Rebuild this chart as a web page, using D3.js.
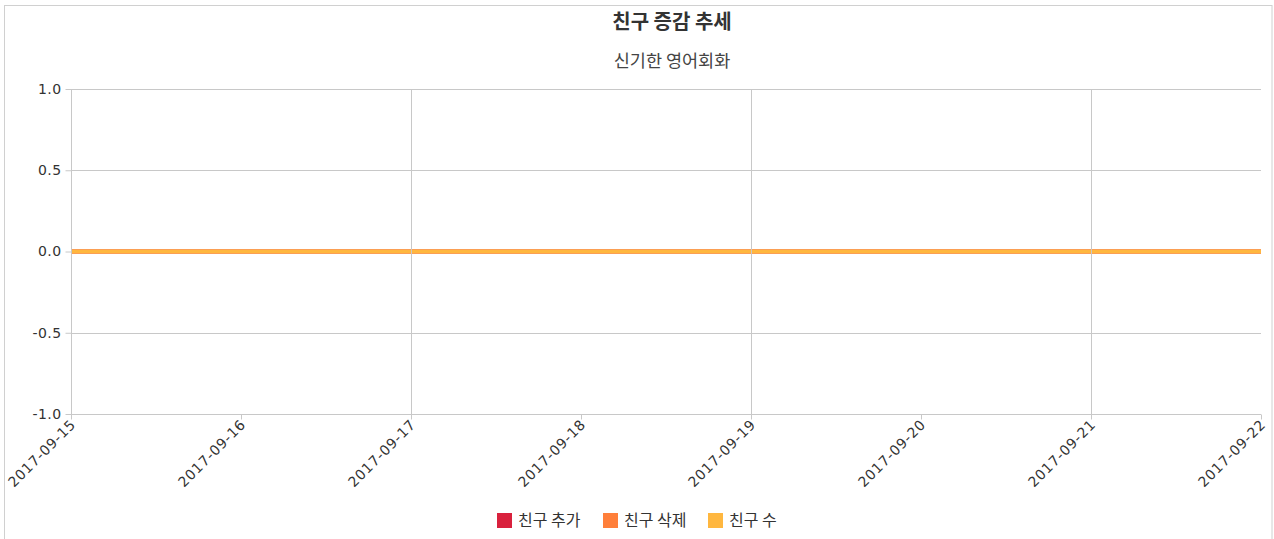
<!DOCTYPE html>
<html>
<head>
<meta charset="utf-8">
<script src="https://cdn.jsdelivr.net/npm/d3@7"></script>
<style>
  body { margin: 0; background: #fff; }
  text { font-family: "DejaVu Sans", "Noto Sans CJK KR", sans-serif; }
</style>
</head>
<body>
<svg id="chart" width="1274" height="539"></svg>
<script>
const dates = ["2017-09-15", "2017-09-16", "2017-09-17", "2017-09-18", "2017-09-19", "2017-09-20", "2017-09-21", "2017-09-22"];
const added = [0, 0, 0, 0, 0, 0, 0, 0];     // 친구 추가
const removed = [0, 0, 0, 0, 0, 0, 0, 0];   // 친구 삭제
const total = [0, 0, 0, 0, 0, 0, 0, 0];     // 친구 수
const yTicks = [1.0, 0.5, 0.0, -0.5, -1.0];
const seriesNames = ["친구 추가", "친구 삭제", "친구 수"];
const colors = ["#d9213d", "#ff7f3a", "#ffb73f"];

const svg = d3.select("#chart");
const W = 1274, H = 539;
const m = { left: 71, right: 13, top: 89, bottom: 125 };
const korean = "'Noto Sans CJK KR', sans-serif";

// outer frame
svg.append("rect").attr("x", 4.5).attr("y", 5.5).attr("width", W - 6.5).attr("height", H)
    .attr("fill", "none").attr("stroke", "#d0d0d0");

svg.append("text").attr("x", 672).attr("y", 29).attr("text-anchor", "middle")
    .style("font-family", korean)
    .attr("font-size", 20).attr("font-weight", "bold").attr("fill", "#333").text("친구 증감 추세");
svg.append("text").attr("x", 672).attr("y", 67).attr("text-anchor", "middle")
    .style("font-family", korean)
    .attr("font-size", 17.5).attr("fill", "#444").text("신기한 영어회화");

const parse = d3.timeParse("%Y-%m-%d");
const x = d3.scaleTime()
    .domain([parse(dates[0]), parse(dates[dates.length - 1])])
    .range([m.left, W - m.right]);
const y = d3.scaleLinear().domain([-1, 1]).range([H - m.bottom, m.top]);

const series = [added, removed, total];
const line = d3.line().x((d, i) => x(parse(dates[i]))).y(d => y(d));

// horizontal grid
svg.append("g").selectAll("line").data(yTicks).join("line")
    .attr("x1", m.left).attr("x2", W - m.right)
    .attr("y1", d => Math.round(y(d)) + 0.5).attr("y2", d => Math.round(y(d)) + 0.5)
    .attr("stroke", "#c8c8c8").attr("stroke-width", 1);

series.forEach((s, k) => {
    svg.append("path").datum(s).attr("d", line)
        .attr("fill", "none").attr("stroke", colors[k]).attr("stroke-width", 4);
});

// vertical grid every other day, over the lines
svg.append("g").selectAll("line").data(dates.filter((d, i) => i % 2 === 0)).join("line")
    .attr("x1", d => Math.round(x(parse(d))) + 0.5).attr("x2", d => Math.round(x(parse(d))) + 0.5)
    .attr("y1", m.top).attr("y2", H - m.bottom)
    .attr("stroke", "#c8c8c8").attr("stroke-width", 1);

// y axis
const yFmt = d3.format(".1f");
const yAxis = svg.append("g").attr("transform", `translate(${m.left + 0.5},0)`)
    .call(d3.axisLeft(y).tickValues(yTicks).tickFormat(d => yFmt(d).replace("−", "-")).tickSize(6).tickPadding(4));
yAxis.select(".domain").attr("stroke", "#c8c8c8").attr("d", `M0,${m.top}V${H - m.bottom}`);
yAxis.selectAll(".tick line").attr("stroke", "#c8c8c8");
yAxis.selectAll(".tick text").attr("font-size", 14).attr("fill", "#333")
    .style("font-family", "'DejaVu Sans', sans-serif").style("letter-spacing", "0.4px");

// x axis
const xAxis = svg.append("g").attr("transform", `translate(0,${Math.round(y(-1)) + 0.5})`)
    .call(d3.axisBottom(x).tickValues(dates.map(parse)).tickFormat(d3.timeFormat("%Y-%m-%d")).tickSize(5));
xAxis.select(".domain").remove();
xAxis.selectAll(".tick line").attr("stroke", "#c8c8c8");
xAxis.selectAll(".tick text").attr("font-size", 14).attr("fill", "#333")
    .style("font-family", "'DejaVu Sans', sans-serif").style("letter-spacing", "0.7px")
    .attr("text-anchor", "end").attr("dy", 0).attr("y", 0)
    .attr("transform", "translate(5,11) rotate(-45)");

// legend
const legendX = [497, 603, 708];
const lg = svg.append("g").selectAll("g").data(seriesNames).join("g")
    .attr("transform", (d, i) => `translate(${legendX[i]},513)`);
lg.append("rect").attr("width", 15).attr("height", 15).attr("fill", (d, i) => colors[i]);
lg.append("text").attr("x", 21).attr("y", 13).attr("font-size", 16).attr("fill", "#333")
    .style("font-family", korean).text(d => d);
</script>
</body>
</html>
